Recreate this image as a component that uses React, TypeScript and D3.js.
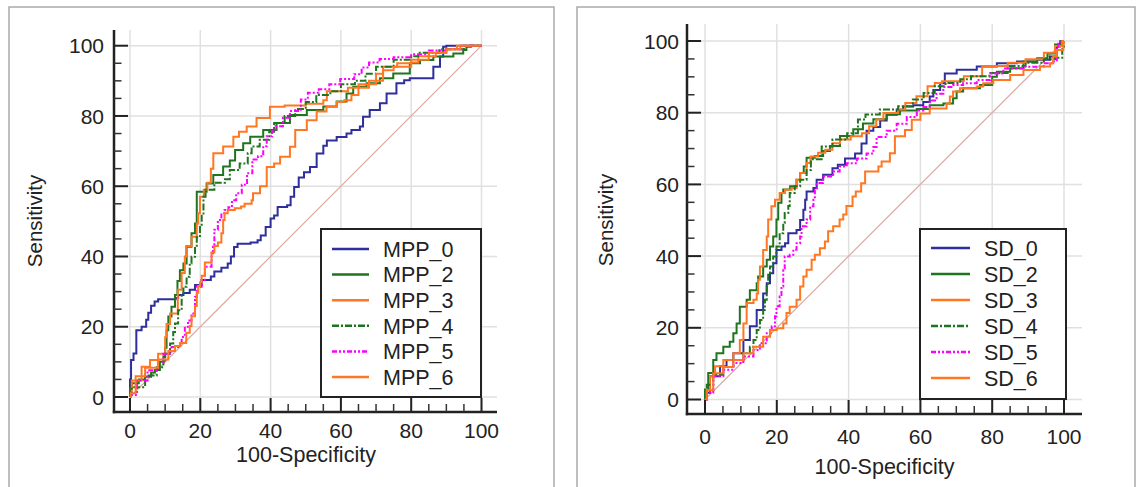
import React from "react";
import * as d3 from "d3";

type Pt = [number, number];

const tickValues = [0, 20, 40, 60, 80, 100];
const minorValues = d3.range(0, 101, 5).filter((v) => v % 20 !== 0);
const xTitle = "100-Specificity";
const yTitle = "Sensitivity";

const mppNames = ["MPP_0", "MPP_2", "MPP_3", "MPP_4", "MPP_5", "MPP_6"];
const sdNames = ["SD_0", "SD_2", "SD_3", "SD_4", "SD_5", "SD_6"];

const seriesColors = ["#2e2e9c", "#1f741f", "#ff7722", "#1f741f", "#ff00ff", "#ff7722"];
const seriesDash = ["", "", "", "7,2,2,2", "5,2,2,2,2,2", ""];

const mpp0: Pt[] = [[0,0],[0,5],[0.3,10.5],[1,12.4],[1.8,19],[3.3,20],[4.6,22],[5.2,24],[6,26],[7,27.2],[8,27.8],[13,28.2],[13.7,29],[15.2,29.6],[17,30.5],[18.5,31.9],[20.4,33.3],[23,34.3],[24,35.7],[26,36.8],[27.8,38],[28.7,40],[29.6,42.7],[30.6,43.6],[34.3,44],[36.3,44.6],[37.2,46],[38.6,48.4],[40,50.8],[41,51.7],[42,54.1],[44.7,54.6],[45.7,57],[46.7,59.8],[48,62.5],[49.5,64],[51.2,65.5],[53.1,69.3],[55,71.5],[56,73],[58.8,74],[61.6,75],[63,76],[65.4,77],[66.3,79.8],[68.2,81.7],[71.1,83.6],[73,86.4],[75.8,89.3],[78,90.2],[79.6,90.7],[85.3,90.7],[86.3,94],[88.2,96.9],[89.1,99.7],[90,100],[100,100]];
const mpp2: Pt[] = [[0,0],[0,2.5],[0.5,3.9],[2.5,5],[4.3,5.8],[6,7],[7.1,7.7],[8.5,10],[9.5,11.5],[10,14],[10.4,19],[10.9,22.9],[11.8,25.7],[12.8,29],[13.5,33],[14.2,36.1],[15.2,38],[16.1,42.8],[17.5,46.6],[18.5,49.4],[19,58.4],[21.8,60.8],[23.7,63.2],[26.5,65.6],[28.4,67.3],[29.9,70.3],[32.2,72.2],[34.2,74.1],[37.9,76],[41.7,78],[45.5,80.3],[50.3,81.7],[55,82.7],[58.8,84.1],[61.6,86.4],[63.5,88.3],[67.3,89.3],[71.1,90.7],[74.9,92.1],[79.6,95],[82.5,95.9],[86.3,96.9],[92,97.8],[94.8,98.8],[95.7,99.7],[97,100],[100,100]];
const mpp3: Pt[] = [[0,0],[0.2,0.6],[0.5,4.7],[3.3,8.6],[5.7,10.5],[8,12.3],[10,17],[10.4,20.8],[11.4,23.8],[13.6,30.5],[14.7,35.3],[15.6,40],[16,43],[17.5,45.6],[19,49.4],[19.4,52.3],[19.9,57],[21,59],[22,61],[23,65],[23.7,69.4],[26.5,71.3],[29.4,74.1],[31,75.5],[33.2,77],[36,79.4],[39.8,79.8],[39.8,82.6],[44,83],[50,83.5],[54,83.5],[55,84.5],[56,87],[62,88],[65,89],[70,90],[71.5,90],[72,94],[76,95],[80,95.2],[82,97],[87,98],[90,99],[93,100],[100,100]];
const mpp4: Pt[] = [[0,0],[0.2,1],[0.5,2.8],[4.3,6.1],[7.6,8.5],[9.5,10.4],[10,12.3],[11.4,15.2],[12.3,18.5],[12.8,20.9],[13.7,24.7],[14.7,29.5],[15.2,31.4],[16.1,34.2],[17,38],[17.5,39.9],[18.5,42.7],[19,45.5],[19.9,48.4],[20.4,52.2],[20.9,57],[21.5,59],[24,61],[27,62],[28.4,64.6],[31.2,66.5],[33.5,69.4],[34.6,71.3],[36.9,73.2],[39.6,75.5],[41,78],[44,80],[47,82],[50,84],[53,86],[57,87],[60,89],[64,90],[67,92],[70,94],[75,96],[80,97],[82,98],[88,99],[95,100],[100,100]];
const mpp5: Pt[] = [[0,0],[0.2,0.6],[2,4.7],[5,7.6],[8,10],[9.5,12.3],[11.8,14.2],[13.7,14.7],[14.7,17.1],[15.6,20],[16.5,21.8],[17.5,23.8],[18.5,28.5],[19,31.4],[20.4,33.3],[21.3,37.1],[23.2,40.9],[23.6,42.8],[24,47.6],[25,50.4],[26,52.3],[26.9,53.2],[28,54],[29,56],[30.2,58],[31.8,60.4],[33.3,63.7],[34.8,67.6],[36.4,68.5],[37.9,71.4],[38.9,74.2],[40.4,75.7],[41.4,77.1],[43.5,79.5],[45.5,81.4],[48.6,84.7],[50.6,86.6],[53.7,87.6],[56.7,89],[59.8,90.5],[63.8,91.9],[65.9,93.8],[68,95.2],[71,96.2],[75,96.7],[80,97.6],[85,98.6],[90,99],[94.4,100],[100,100]];
const mpp6: Pt[] = [[0,0],[0.2,1.1],[1.6,5.9],[4.3,8.3],[8,10.7],[10.9,13.1],[12.8,14.5],[14.2,15.4],[15.6,15.4],[16,18.3],[17,20.2],[17.5,23],[18.5,25.9],[19,29.7],[19.4,31.6],[19.9,32.6],[20.4,34.5],[21.3,38.3],[23.2,41.1],[24,43],[25,44],[26,46.6],[26.5,50.4],[26.9,52.3],[27.8,53.2],[29.8,53.7],[31.6,54.2],[32.6,55],[34.6,56],[35,58],[37,60],[38.9,65.5],[41,66.5],[42.7,68.4],[45.5,71.2],[47,76],[50.3,78.8],[53.1,81.3],[55.9,82.6],[58.8,84],[61,84.5],[63,86],[65,88],[68,90],[70,92],[72,93],[75,94],[80,96],[85,98],[90,99],[94,100],[100,100]];

const sd0: Pt[] = [[0,0],[0,1.9],[1.4,6.5],[4.2,9.3],[6,11],[7.9,12.9],[10.7,16.6],[12.5,20.4],[14.4,25],[16.2,29.6],[17.2,32.4],[18.1,35.2],[19,38],[19.9,41.7],[21.3,42.7],[22.3,43.6],[23.2,46.4],[25.5,47.3],[26.5,50.1],[27.4,52.9],[27.9,55.7],[28.3,58],[30.2,59],[31.1,61.3],[32.9,62.7],[35.5,64.5],[37,65.5],[39,67.2],[41.8,68.6],[43.6,71.4],[45,75],[46.9,76],[48.8,77.8],[50.6,79.4],[53.4,80.8],[55.2,81.7],[58,82.1],[60.8,83],[62.6,84.5],[63.6,86.3],[65.5,88.2],[66.8,90.9],[70.1,92],[73.8,92],[75.7,92.9],[81.3,93.8],[86.9,94.3],[92.5,94.8],[96.1,95.7],[98,98.5],[98.9,99.8],[100,100]];
const sd2: Pt[] = [[0,0],[0,2.8],[0.9,7.4],[2.3,11],[3.2,12.9],[5.1,14.7],[6.9,16.1],[7.9,18.5],[8.8,21.2],[9.7,25.9],[11.6,27.8],[12.5,30.5],[14.4,32.4],[14.8,34.3],[16.2,37.1],[17.2,39],[18.1,42.7],[19,45.5],[19.9,50.2],[20.4,54.9],[21.3,57.6],[21.8,58.6],[23.7,59.5],[25.5,61.3],[26.5,63.2],[27.5,65],[28.3,67.4],[30.6,67.9],[32.9,69.3],[34.8,70.7],[37.6,73.5],[41.3,75.4],[44,77],[46.9,78.2],[50.6,79.6],[54.3,80.6],[59,81],[62.6,82.1],[66.4,82.6],[69.1,84],[70.1,85.9],[71.9,86.8],[76.6,87.7],[80,90],[81.3,91.4],[85,92.4],[88.7,94.3],[92.5,95.2],[95.4,96.5],[97.5,99],[99,100],[100,100]];
const sd3: Pt[] = [[0,0],[0.5,2.6],[1.4,6.5],[2.8,9.3],[5.1,11],[7.9,12.9],[9.7,16.6],[10.7,21.2],[11.6,26.9],[13.5,27.8],[14.4,29.6],[14.8,33.4],[15.3,37.1],[16.2,41.7],[17.2,45.5],[17.6,50.2],[18.5,53.9],[19.5,55.7],[20.8,57.6],[22.3,58.5],[24.1,59],[25.5,61.3],[26.5,63.2],[28.3,66],[29.4,67.8],[31.5,68.8],[33.5,69.7],[35.5,71.5],[37.6,72.5],[40.6,73.4],[43.7,74.3],[45.7,76.2],[47.7,78.1],[49.7,79.9],[53.8,80.9],[55.8,82.7],[58.9,84.6],[62,87.4],[64,88.3],[66,88.8],[72.1,90.2],[77.2,93],[84.3,93.9],[89.3,94.9],[94.4,96.7],[97.5,98.6],[99.5,100],[100,100]];
const sd4: Pt[] = [[0,0],[0.5,4.1],[2.3,6.9],[5.1,9.1],[7.9,11],[10.7,12.9],[12.5,14.7],[13.5,16.6],[14.4,19.4],[15.3,22.2],[16.2,25],[16.7,27.8],[17.2,31.5],[17.6,35.2],[18.1,37.1],[19,39.9],[19.9,42.7],[20.8,46.4],[21.8,49.2],[22.2,52],[23.2,54],[23.6,57.6],[25,59.5],[26.5,61.3],[28.3,64],[29.5,67],[32.5,70.6],[35.5,72.5],[39.6,74.3],[42.6,78.1],[44.7,79.5],[48.7,80.9],[53.8,81.8],[57.9,83.7],[60.9,85.5],[64,87.4],[67,88.3],[71.1,89.3],[74.1,90.2],[79.2,91.1],[84.3,93],[89.3,93.9],[94.4,94.9],[97.5,95.3],[99.5,97.7],[100,100]];
const sd5: Pt[] = [[0,0],[0.5,1.9],[2.3,6.5],[5.1,8.3],[7.9,10.2],[10.7,12],[13.5,13.8],[15.3,15.7],[17.2,18.5],[18.6,20.4],[19.5,23.2],[19.9,26],[20.8,28.7],[21.3,31.5],[21.8,36.1],[22.2,39.9],[23.6,40.4],[24.6,41.8],[25.5,43.6],[26.5,45.5],[26.9,48.3],[28.3,50.2],[29.3,53.9],[30.2,55.7],[30.6,58.5],[31.1,60.4],[32.9,62.2],[35.7,63.6],[37.5,65],[39.5,65.9],[42.3,67.2],[45,68.6],[46.9,70.4],[47.8,73.2],[50.6,75],[53.4,76.9],[56.2,78.8],[59,80.6],[60.8,81.6],[62.6,83.4],[64.5,85.3],[66.4,87.2],[69.1,87.7],[71.9,88.2],[75.7,89.1],[79.4,90.9],[83.1,92.3],[88.7,92.8],[94.3,93.8],[97,94.3],[98,98.4],[98.4,99.8],[100,100]];
const sd6: Pt[] = [[0,0],[0.5,2.6],[2.3,7.3],[5.1,9.1],[7.9,11],[10.7,12.9],[13.5,14.7],[16.2,17.5],[18.1,19.4],[20,19.9],[21.8,21.2],[22.7,24.1],[23.6,25.9],[25.5,27.8],[26.5,31.5],[27.4,34.3],[28.3,36.2],[29.7,39],[30.6,40.4],[32,42.2],[33.4,44.1],[34.3,46.9],[35.7,48.3],[37.5,50.2],[38.5,51.6],[39.4,54],[41.1,56.6],[42,58],[43.5,60.3],[44.6,63.6],[48.3,65],[49.2,66.4],[51.5,68.7],[52.9,73.4],[55.7,75.2],[57.6,78],[60,79.8],[62.6,81.2],[67.3,82.6],[68.2,84.5],[69.1,85.9],[71,86.8],[75.7,87.3],[77.5,88.2],[80.3,89.1],[85,90.5],[88.7,91.9],[93.3,92.9],[96.1,93.8],[97,95.7],[98,97.5],[99.8,99.3],[100,100]];

const mppSeries = [mpp0, mpp2, mpp3, mpp4, mpp5, mpp6];
const sdSeries = [sd0, sd2, sd3, sd4, sd5, sd6];

const FONT = "'Liberation Sans', Arial, sans-serif";

interface PanelCfg {
  frame: { x: number; y: number; w: number; h: number };
  axisX: number;
  axisTop: number;
  xAxisY: number;
  axisRight: number;
  xRange: [number, number];
  yRange: [number, number];
  yLabelX: number;
  xLabelY: number;
  xTitlePos: [number, number];
  yTitlePos: [number, number];
  legend: { x: number; y: number; w: number; h: number; l1: number; l2: number; tx: number; r0: number; step: number };
}

const leftCfg: PanelCfg = {
  frame: { x: 9, y: 7, w: 545, h: 500 },
  axisX: 114, axisTop: 30, xAxisY: 412, axisRight: 497,
  xRange: [130, 481.5], yRange: [397, 45.7],
  yLabelX: 104, xLabelY: 438,
  xTitlePos: [306, 462], yTitlePos: [42, 221],
  legend: { x: 321, y: 229, w: 160, h: 168, l1: 332, l2: 369, tx: 383, r0: 249, step: 25.6 },
};
const rightCfg: PanelCfg = {
  frame: { x: 577, y: 7, w: 558, h: 500 },
  axisX: 687, axisTop: 24, xAxisY: 414, axisRight: 1082,
  xRange: [705, 1064], yRange: [399.5, 41],
  yLabelX: 679, xLabelY: 444,
  xTitlePos: [884.5, 474], yTitlePos: [613, 220],
  legend: { x: 920, y: 229, w: 146, h: 170, l1: 931, l2: 970, tx: 984, r0: 248, step: 26 },
};

function Panel({ cfg, names, series }: { cfg: PanelCfg; names: string[]; series: Pt[][] }) {
  const x = d3.scaleLinear().domain([0, 100]).range(cfg.xRange);
  const y = d3.scaleLinear().domain([0, 100]).range(cfg.yRange);
  const line = d3.line<Pt>().x((d) => x(d[0])).y((d) => y(d[1])).curve(d3.curveStepAfter);
  const lg = cfg.legend;
  return (
    <g>
      <rect x={cfg.frame.x} y={cfg.frame.y} width={cfg.frame.w} height={cfg.frame.h} fill="#fff" stroke="#aaa" strokeWidth={1.5} />
      {tickValues.map((v) => (
        <g key={"g" + v}>
          <line x1={x(v)} x2={x(v)} y1={cfg.axisTop} y2={cfg.xAxisY} stroke="#e0e0e0" strokeWidth={1.5} />
          <line x1={cfg.axisX} x2={cfg.axisRight} y1={y(v)} y2={y(v)} stroke="#e0e0e0" strokeWidth={1.5} />
        </g>
      ))}
      <line x1={x(0)} y1={y(0)} x2={x(100)} y2={y(100)} stroke="#d8aaa2" strokeWidth={1.2} />
      {series.map((s, i) => (
        <path key={names[i]} d={line(s) || ""} fill="none" stroke={seriesColors[i]} strokeWidth={2} strokeDasharray={seriesDash[i] || undefined} />
      ))}
      <line x1={cfg.axisX} x2={cfg.axisX} y1={cfg.axisTop} y2={cfg.xAxisY + 1.2} stroke="#222" strokeWidth={2.5} />
      <line x1={cfg.axisX - 1.2} x2={cfg.axisRight} y1={cfg.xAxisY} y2={cfg.xAxisY} stroke="#222" strokeWidth={2.5} />
      {tickValues.map((v) => (
        <g key={"t" + v}>
          <line x1={cfg.axisX} x2={cfg.axisX + 14} y1={y(v)} y2={y(v)} stroke="#222" strokeWidth={2} />
          <line x1={x(v)} x2={x(v)} y1={cfg.xAxisY} y2={cfg.xAxisY - 14} stroke="#222" strokeWidth={2} />
          <text x={cfg.yLabelX} y={y(v)} dy="0.36em" textAnchor="end" fontSize={21} fontFamily={FONT} fill="#222">{v}</text>
          <text x={x(v)} y={cfg.xLabelY} textAnchor="middle" fontSize={21} fontFamily={FONT} fill="#222">{v}</text>
        </g>
      ))}
      {minorValues.map((v) => (
        <g key={"m" + v}>
          <line x1={cfg.axisX} x2={cfg.axisX + 7.5} y1={y(v)} y2={y(v)} stroke="#333" strokeWidth={1.5} />
          <line x1={x(v)} x2={x(v)} y1={cfg.xAxisY} y2={cfg.xAxisY - 8} stroke="#333" strokeWidth={1.5} />
        </g>
      ))}
      <text x={cfg.xTitlePos[0]} y={cfg.xTitlePos[1]} textAnchor="middle" fontSize={21.5} fontFamily={FONT} fill="#222">{xTitle}</text>
      <text transform={`translate(${cfg.yTitlePos[0]},${cfg.yTitlePos[1]}) rotate(-90)`} textAnchor="middle" fontSize={20.5} fontFamily={FONT} fill="#222">{yTitle}</text>
      <rect x={lg.x} y={lg.y} width={lg.w} height={lg.h} fill="#fff" stroke="#222" strokeWidth={2} />
      {names.map((n, i) => {
        const cy = lg.r0 + i * lg.step;
        return (
          <g key={"l" + n}>
            <line x1={lg.l1} x2={lg.l2} y1={cy} y2={cy} stroke={seriesColors[i]} strokeWidth={2.5} strokeDasharray={seriesDash[i] || undefined} />
            <text x={lg.tx} y={cy} dy="0.36em" fontSize={21.5} fontFamily={FONT} fill="#222">{n}</text>
          </g>
        );
      })}
    </g>
  );
}

export default function App() {
  return (
    <svg width={1141} height={487} style={{ position: "absolute", left: 0, top: 0, background: "#fff" }}>
      <rect x={0} y={0} width={1141} height={487} fill="#fff" />
      <Panel cfg={leftCfg} names={mppNames} series={mppSeries} />
      <Panel cfg={rightCfg} names={sdNames} series={sdSeries} />
    </svg>
  );
}
